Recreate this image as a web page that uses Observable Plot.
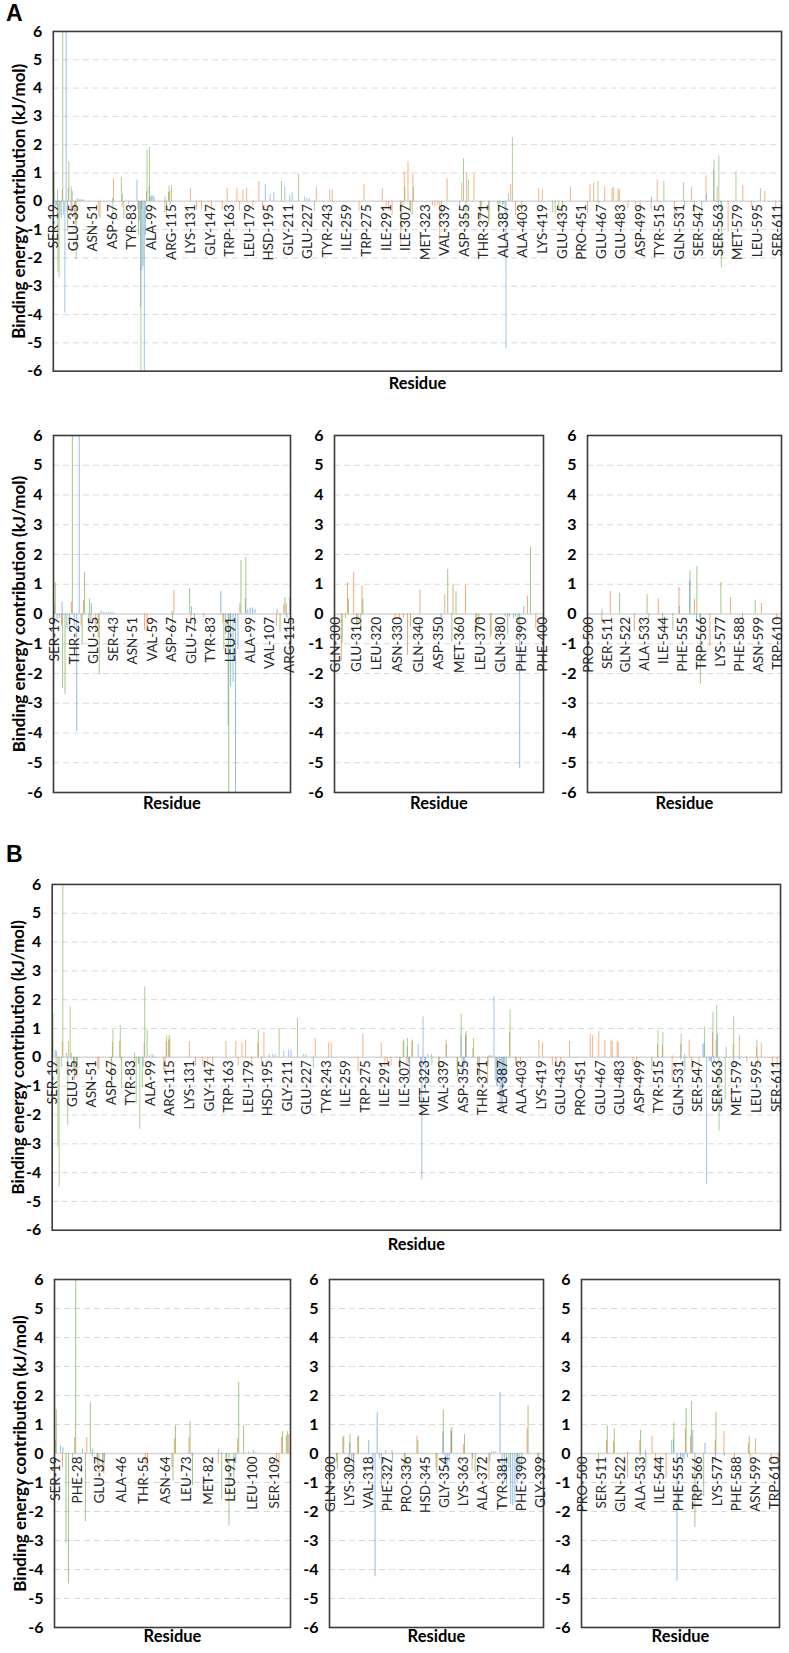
<!DOCTYPE html>
<html><head><meta charset="utf-8">
<script src="https://cdn.jsdelivr.net/npm/d3@7"></script>
<script src="https://cdn.jsdelivr.net/npm/@observablehq/plot@0.6"></script>
<style>
body{margin:0;background:#fff;width:789px;height:1653px;position:relative;overflow:hidden;font-family:Lato,sans-serif;}
.chart{position:absolute;}
.panel{position:absolute;font:bold 23px "Liberation Sans",Arial,sans-serif;color:#000;}
</style></head><body>
<div class="panel" style="left:6px;top:0px">A</div>
<div class="panel" style="left:6px;top:841px">B</div>
<script>
// ---------- tick labels ----------
const ticksTop = ["SER-19","GLU-35","ASN-51","ASP-67","TYR-83","ALA-99","ARG-115","LYS-131","GLY-147","TRP-163","LEU-179","HSD-195","GLY-211","GLU-227","TYR-243","ILE-259","TRP-275","ILE-291","ILE-307","MET-323","VAL-339","ASP-355","THR-371","ALA-387","ALA-403","LYS-419","GLU-435","PRO-451","GLU-467","GLU-483","ASP-499","TYR-515","GLN-531","SER-547","SER-563","MET-579","LEU-595","SER-611"];
const ticksA1 = ["SER-19","THR-27","GLU-35","SER-43","ASN-51","VAL-59","ASP-67","GLU-75","TYR-83","LEU-91","ALA-99","VAL-107","ARG-115"];
const ticksA2 = ["GLN-300","GLU-310","LEU-320","ASN-330","GLN-340","ASP-350","MET-360","LEU-370","GLN-380","PHE-390","PHE-400"];
const ticks3 = ["PRO-500","SER-511","GLN-522","ALA-533","ILE-544","PHE-555","TRP-566","LYS-577","PHE-588","ASN-599","TRP-610"];
const ticksB1 = ["SER-19","PHE-28","GLU-37","ALA-46","THR-55","ASN-64","LEU-73","MET-82","LEU-91","LEU-100","SER-109"];
const ticksB2 = ["GLN-300","LYS-309","VAL-318","PHE-327","PRO-336","HSD-345","GLY-354","LYS-363","ALA-372","TYR-381","PHE-390","GLY-399"];
const yTicks = [-6,-5,-4,-3,-2,-1,0,1,2,3,4,5,6];
const gridVals = [-5,-4,-3,-2,-1,1,2,3,4,5];

// ---------- values: [residue, kJ/mol] ----------
const A_orange = [[19,0.35],[22,-0.4],[26,0.4],[30,-0.4],[31,0.45],[34,-0.3],[36,-0.6],[37,-0.8],[56,-0.55],[57,-0.6],[68,0.8],[75,-0.2],[88,-0.3],[91,-0.3],[95,0.35],[110,-0.4],[113,0.3],[114,0.35],
 [131,0.45],[136,-0.3],[140,-0.3],[148,-0.35],[157,-0.3],[161,0.45],[169,0.45],[171,-0.35],[174,0.4],[177,0.45],[182,-0.2],[187,0.7],[190,-0.3],[234,0.5],[245,0.4],[247,0.4],[269,-0.35],[273,0.6],[288,0.45],[291,-0.3],[293,-0.3],[296,-0.5],
 [303,-1.6],[305,-0.15],[306,1.05],[309,1.4],[311,-0.4],[313,0.95],[329,-0.15],[331,-0.2],[333,-0.15],[335,-1.4],[341,0.8],[353,0.65],[357,1.0],[363,0.95],[368,-0.7],[375,-0.8],[393,0.6],[397,-0.5],
 [402,-0.4],[416,0.45],[419,0.4],[442,0.5],[456,-0.45],[458,0.6],[461,0.65],[470,0.5],[476,0.45],[477,0.5],[481,0.45],[482,0.4],[489,-0.25],[495,-0.2],[499,-0.25],
 [508,-0.3],[513,0.75],[527,-0.6],[541,0.5],[553,0.9],[562,0.5],[571,-1.1],[583,0.55],[590,-0.2],[601,0.35],[610,-0.25]];
const A_blue = [[20,-0.2],[21,-0.15],[22,0.4],[24,-0.5],[25,-0.6],[27,-0.5],[28,-3.95],[29,7],[33,-0.4],[34,0.35],[38,0.1],[39,0.05],[40,0.05],[41,0.05],[42,0.05],[43,0.05],[67,0.1],[75,0.25],[80,-0.1],[87,0.75],[89,-0.7],[90,-3.75],[91,-2.45],[92,-2.3],[93,-6.5],[94,-1.2],[97,0.5],[98,0.15],[99,0.2],[100,0.2],[101,0.15],[110,0.15],[114,-0.15],
 [192,0.6],[196,0.25],[199,0.3],[208,0.5],[212,0.2],[214,0.3],[224,0.15],[226,0.1],[228,0.1],
 [351,-0.15],[382,-0.1],[384,-0.1],[386,-0.15],[387,-0.1],[389,-5.2],[391,0.25],
 [465,-0.1],
 [508,0.15],[553,0.25],[559,1.1],[561,-0.05],[563,-0.3],[565,-0.15]];
const A_green = [[19,1.05],[22,-2.5],[23,-2.7],[26,7],[30,-1.05],[31,1.4],[33,0.5],[37,-2.05],[67,-0.55],[74,0.85],[76,-0.6],[88,-1.2],[90,-6.5],[95,1.8],[97,1.9],[111,-0.6],[113,0.55],[115,0.55],
 [205,0.7],[219,0.95],[232,-0.35],
 [303,-1.0],[306,0.5],[310,-0.35],[312,-0.5],[313,0.5],[336,-0.45],[354,1.5],[356,-0.95],[358,0.75],[368,-0.6],[369,-0.3],[375,-0.7],[383,-0.7],[388,-0.4],[394,2.25],
 [427,-0.4],[429,-0.45],[432,-0.35],[435,-0.5],[464,0.7],
 [518,0.7],[534,0.65],[535,-0.2],[543,-0.5],[549,-0.55],[559,1.45],[563,1.6],[565,-2.35],[577,1.05],[597,0.45]];

const B_orange = [[19,0.45],[22,-0.5],[27,0.55],[32,0.55],[37,-0.8],[39,-0.7],[56,-0.4],[57,-0.45],[67,-0.5],[68,0.5],[74,0.55],[86,-0.35],[94,0.5],[110,-0.45],[111,-0.5],[112,0.55],[114,0.6],[115,0.65],
 [131,0.55],[136,-0.3],[142,-0.3],[146,-0.3],[150,-0.3],[161,0.55],[169,0.55],[171,-0.3],[174,0.5],[177,0.6],[182,-0.35],[187,0.5],[190,-0.3],[192,0.85],[234,0.65],[245,0.5],[247,0.5],[269,-0.5],[273,0.8],[288,0.5],[291,-0.35],[293,-0.3],[296,-0.3],
 [303,-0.3],[306,0.55],[309,-0.3],[311,-0.7],[313,0.55],[335,-0.4],[341,0.6],[350,-0.5],[357,0.8],[363,0.3],[367,-0.6],[375,-0.95],[393,0.85],[398,-0.2],
 [402,-0.35],[417,0.6],[420,0.5],[428,-0.3],[431,-0.35],[435,-0.3],[442,0.55],[459,0.8],[461,0.75],[466,0.9],[471,0.6],[476,0.6],[477,0.55],[481,0.55],[482,0.5],[494,-0.3],[497,-0.3],
 [514,0.45],[518,0.4],[526,-0.85],[533,0.45],[540,0.6],[542,-0.45],[548,-0.85],[559,0.85],[562,0.6],[576,0.45],[581,0.75],[587,-0.2],[595,0.35],[596,-0.4],[599,0.5],[608,-0.35],[612,-0.4]];
const B_blue = [[21,0.25],[22,0.2],[26,-0.35],[30,0.15],[34,-0.1],[36,-0.3],[39,-0.3],[75,-0.1],[86,0.15],[89,-0.2],[93,-0.35],
 [196,0.1],[199,0.1],[201,0.1],[208,0.2],[212,0.25],[214,0.25],[224,0.1],[226,0.1],
 [309,0.35],[310,-0.2],[311,-0.75],[318,0.45],[320,-0.5],[321,-4.25],[322,1.4],[323,-0.2],[324,-1.2],[326,0.1],[329,0.1],[353,0.75],[354,-0.5],[355,-0.6],[356,-0.3],[357,0.75],[367,-0.2],[376,0.05],[377,0.05],[378,0.05],[380,2.1],[381,-0.8],[382,-1.0],[383,-1.05],[385,-1.75],[386,-1.8],[387,-1.7],[388,-1.05],[389,-0.9],
 [526,0.05],[533,-0.1],[536,0.1],[551,0.45],[552,0.5],[554,-4.4],[556,-0.15],[557,-0.15],[558,-0.2],[560,-0.15],[563,0.8],[570,0.35],[576,-0.3],[581,-0.1]];
const B_green = [[19,1.5],[23,-3.1],[24,-4.5],[27,7],[31,-2.35],[33,1.75],[34,0.15],[36,-0.5],[38,-0.6],[67,-0.95],[68,0.95],[74,1.1],[75,-1.1],[87,-1.6],[89,-0.25],[90,-2.5],[92,-1.05],[94,2.45],[96,0.95],[98,0.05],[100,0.1],[101,0.05],[112,0.75],[114,0.75],
 [187,0.95],[204,1.0],[219,1.35],[232,-0.4],
 [303,-0.55],[306,0.6],[309,0.65],[313,0.6],[329,-0.3],[335,-0.5],[341,0.45],[350,-0.7],[353,1.5],[357,0.9],[363,0.65],[368,-0.7],[375,-0.3],[384,-0.5],[388,-0.4],[390,-0.6],[393,1.65],[398,-0.3],
 [509,-0.5],[514,0.95],[518,0.85],[533,0.8],[536,-0.5],[552,1.05],[559,1.55],[562,1.8],[564,-2.55],[569,-1.5],[576,1.4],[595,0.6]];

// ---------- build ----------
const seriesStyle = [
  {key: "orange", color: "#ED7D31", off: -0.22},
  {key: "blue", color: "#5B9BD5", off: 0},
  {key: "green", color: "#70AD47", off: 0.22}
];
function rowsOf(o, b, g) {
  const src = {orange: o, blue: b, green: g};
  const rows = [];
  for (const s of seriesStyle) for (const [res, v] of src[s.key]) rows.push({res, v, s: s.key});
  return rows;
}
const dataA = rowsOf(A_orange, A_blue, A_green);
const dataB = rowsOf(B_orange, B_blue, B_green);

const ML = 53, MR = 8, MT = 10, MB = 32;
function chart({data, lo, hi, ticks, l, r, t, b, title, resDy, sw}) {
  const rows = data.filter(d => d.res >= lo && d.res <= hi);
  const marks = [
    Plot.ruleY(gridVals, {stroke: "#d9d9d9", strokeDasharray: "6,4", strokeWidth: 1}),
    Plot.ruleY([0], {stroke: "#d6d6d6", strokeWidth: 1.5}),
    ...seriesStyle.map(s => Plot.ruleX(rows.filter(d => d.s === s.key), {
      x: d => d.res + s.off, y1: 0, y2: "v", stroke: s.color, strokeWidth: sw, strokeOpacity: 0.85, clip: true
    })),
    Plot.frame({stroke: "#3a3a3a", strokeWidth: 1.6}),
    Plot.axisY(yTicks, {tickSize: 0, tickPadding: 11, tickFormat: d => String(d), fontSize: 16, fontWeight: "bold", color: "#000", label: null}),
    Plot.text(ticks, {x: d => +d.split("-")[1], y: 0, text: d => d, rotate: -90, textAnchor: "end", dy: 3, fontSize: 13.5, fill: "#262626"}),
    Plot.text(["Residue"], {frameAnchor: "bottom", textAnchor: "middle", text: d => d, dy: resDy, fontSize: 16.5, fontWeight: "bold", fill: "#000"})
  ];
  if (title) marks.push(Plot.text([title], {frameAnchor: "left", textAnchor: "middle", text: d => d, rotate: -90, dx: -34, fontSize: 17, fontWeight: "bold", fill: "#000"}));
  const p = Plot.plot({
    width: (r - l) + ML + MR, height: (b - t) + MT + MB,
    marginLeft: ML, marginRight: MR, marginTop: MT, marginBottom: MB,
    style: {background: "transparent", fontFamily: "Lato, sans-serif", overflow: "visible"},
    x: {type: "linear", domain: [lo - 0.5, hi + 0.5], axis: null},
    y: {domain: [-6, 6], axis: null},
    marks
  });
  p.classList.add("chart");
  p.style.left = (l - ML) + "px";
  p.style.top = (t - MT) + "px";
  document.body.appendChild(p);
}
const TITLE = "Binding energy contribution (kJ/mol)";
chart({data: dataA, lo: 19, hi: 614, ticks: ticksTop, l: 53, r: 784, t: 31, b: 372, title: TITLE, resDy: 18, sw: 0.7});
chart({data: dataA, lo: 19, hi: 115, ticks: ticksA1, l: 53, r: 290, t: 435, b: 792, title: TITLE, resDy: 16, sw: 0.8});
chart({data: dataA, lo: 300, hi: 400, ticks: ticksA2, l: 334, r: 543, t: 435, b: 792, title: null, resDy: 16, sw: 0.8});
chart({data: dataA, lo: 500, hi: 612, ticks: ticks3, l: 587, r: 781, t: 435, b: 792, title: null, resDy: 16, sw: 0.8});
chart({data: dataB, lo: 19, hi: 614, ticks: ticksTop, l: 52, r: 785, t: 884, b: 1232, title: TITLE, resDy: 20, sw: 0.7});
chart({data: dataB, lo: 19, hi: 115, ticks: ticksB1, l: 54, r: 290, t: 1279, b: 1627, title: TITLE, resDy: 14, sw: 0.8});
chart({data: dataB, lo: 300, hi: 400, ticks: ticksB2, l: 329, r: 543, t: 1279, b: 1627, title: null, resDy: 14, sw: 0.8});
chart({data: dataB, lo: 500, hi: 612, ticks: ticks3, l: 581, r: 779, t: 1279, b: 1627, title: null, resDy: 14, sw: 0.8});
</script>
</body></html>
